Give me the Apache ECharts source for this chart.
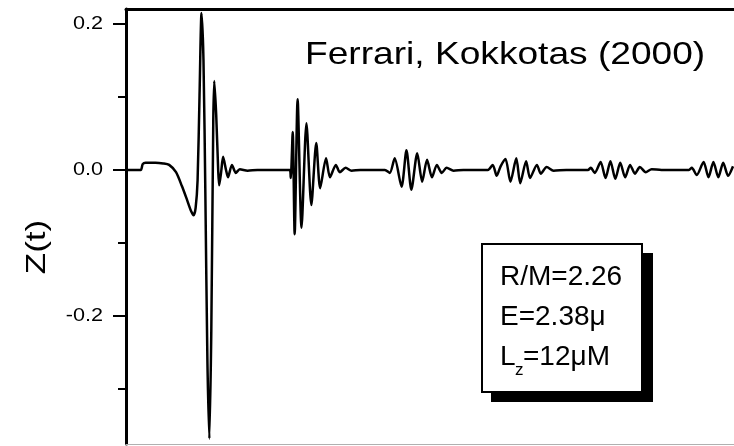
<!DOCTYPE html>
<html>
<head>
<meta charset="utf-8">
<title>Z(t) waveform</title>
<script src="https://cdn.jsdelivr.net/npm/echarts@6/dist/echarts.min.js"></script>
<style>
  html, body { margin: 0; padding: 0; background: #fff; }
  #chart { width: 734px; height: 446px; }
</style>
</head>
<body>
<div id="chart"></div>
<script>
// Time samples (arbitrary units) and the waveform amplitude Z(t)
const timeValues = [
  0, 15, 17, 20, 30, 38, 44, 51, 57, 62, 66, 69, 71, 73, 75, 77, 79, 81, 83, 85,
  87, 89, 90, 92, 94, 95, 97, 99, 102, 104, 108, 112, 116, 124, 134, 167,
  168, 170, 172, 175, 179, 184, 189, 194, 198, 204, 208, 214, 218, 224, 230, 239, 264,
  269, 274, 281, 286, 291, 297, 302, 307, 312, 317, 322, 327, 334, 344, 369,
  374, 378, 382, 387, 392, 398, 402, 408, 412, 419, 423, 429, 436, 449, 471,
  474, 478, 484, 489, 494, 499, 504, 509, 514, 519, 524, 530, 536, 546, 574,
  577, 582, 589, 594, 599, 604, 609, 614, 619
];
const zValues = [
  0, 0, 0.008, 0.010, 0.010, 0.009, 0.007, -0.003, -0.022, -0.040, -0.055, -0.062, -0.052, -0.014, 0.103, 0.215, 0.151, -0.041, -0.260, -0.368,
  -0.219, 0.068, 0.122, 0.075, 0, -0.021, -0.003, 0.018, 0, -0.010, 0.007, -0.004, 0.001, -0.001, 0, 0,
  -0.011, 0.052, -0.088, 0.097, -0.079, 0.064, -0.048, 0.037, -0.025, 0.016, -0.010, 0.007, -0.003, 0.003, -0.001, 0, 0,
  -0.004, 0.016, -0.023, 0.027, -0.027, 0.023, -0.016, 0.014, -0.010, 0.007, -0.004, 0.003, -0.001, 0, 0,
  0.007, -0.008, 0.005, 0.015, -0.016, 0.016, -0.018, 0.012, -0.011, 0.007, -0.005, 0.004, -0.001, 0, 0,
  0.003, -0.004, 0.011, -0.011, 0.012, -0.012, 0.010, -0.010, 0.007, -0.005, 0.004, -0.003, 0.001, 0, 0,
  0.003, -0.007, 0.011, -0.010, 0.011, -0.010, 0.010, -0.008, 0.005
];

// Axis ticks
const majorTickValues = [0.2, 0.0, -0.2];
const majorTickLabels = ['0.2', '0.0', '-0.2'];
const minorTickValues = [0.1, -0.1, -0.3];

const yMin = -0.3753;
const yMax = 0.2205;
const tMax = 620;

const titleText = 'Ferrari, Kokkotas (2000)';
const yAxisTitle = 'Z(t)';
const paramLines = ['R/M=2.26', 'E=2.38\u03bc'];
const lzMain = 'L';
const lzSub = 'z';
const lzRest = '=12\u03bcM';

const seriesData = timeValues.map((t, i) => [t, zValues[i]]);

const FAMILY = 'Liberation Sans';

const chart = echarts.init(document.getElementById('chart'), null, { renderer: 'canvas' });

chart.setOption({
  animation: false,
  backgroundColor: '#ffffff',
  grid: { left: 126, top: 9, width: 620, bottom: 2, containLabel: false },
  xAxis: [
    {
      type: 'value', min: 0, max: tMax, position: 'bottom',
      axisLine: { show: true, onZero: false, lineStyle: { color: '#b0b0b0', width: 1 } },
      axisTick: { show: false }, axisLabel: { show: false }, splitLine: { show: false }
    },
    {
      type: 'value', min: 0, max: tMax, position: 'top',
      axisLine: { show: true, onZero: false, lineStyle: { color: '#000', width: 3 } },
      axisTick: { show: false }, axisLabel: { show: false }, splitLine: { show: false }
    }
  ],
  yAxis: [
    {
      type: 'value', min: yMin, max: yMax, position: 'left',
      axisLine: { show: true, onZero: false, lineStyle: { color: '#000', width: 3 } },
      axisTick: {
        show: true, inside: false, length: 13, customValues: majorTickValues,
        lineStyle: { color: '#000', width: 2 }
      },
      axisLabel: { show: false },
      splitLine: { show: false }
    },
    {
      type: 'value', min: yMin, max: yMax, position: 'left',
      axisLine: { show: false },
      axisTick: {
        show: true, inside: false, length: 8, customValues: minorTickValues,
        lineStyle: { color: '#000', width: 2 }
      },
      axisLabel: { show: false },
      splitLine: { show: false }
    }
  ],
  series: [
    {
      type: 'line',
      xAxisIndex: 0,
      yAxisIndex: 0,
      data: seriesData,
      showSymbol: false,
      smooth: 0.25,
      clip: true,
      lineStyle: { color: '#000', width: 2.5 }
    }
  ]
});

// Tick labels placed at the positions the y axis scale gives for each value
const axisX = chart.convertToPixel({ xAxisIndex: 0 }, 0);
const tickLabelGraphics = majorTickValues.map((v, i) => ({
  type: 'text',
  id: 'ylabel' + i,
  x: axisX - 23,
  y: chart.convertToPixel({ yAxisIndex: 0 }, v),
  scaleX: 1.2,
  z: 10,
  style: { text: majorTickLabels[i], fontFamily: FAMILY, fontSize: 18, fill: '#000', align: 'right', verticalAlign: 'middle' }
}));

chart.setOption({
  graphic: tickLabelGraphics.concat([
    {
      type: 'text', id: 'title', x: 305, y: 55, scaleX: 1.16, z: 10,
      style: { text: titleText, fontFamily: FAMILY, fontSize: 32, fill: '#000', align: 'left', verticalAlign: 'middle' }
    },
    {
      type: 'text', id: 'yname', x: 37, y: 247, rotation: Math.PI / 2, scaleX: 1.25, z: 10,
      style: { text: yAxisTitle, fontFamily: FAMILY, fontSize: 28, fill: '#000', align: 'center', verticalAlign: 'middle' }
    },
    // parameter box: offset shadow, then framed panel
    {
      type: 'rect', id: 'boxShadow', z: 10,
      shape: { x: 491, y: 253, width: 162, height: 149 },
      style: { fill: '#000', stroke: null }
    },
    {
      type: 'rect', id: 'boxPanel', z: 11,
      shape: { x: 482, y: 244, width: 160, height: 148 },
      style: { fill: '#fff', stroke: '#000', lineWidth: 2 }
    },
    {
      type: 'text', id: 'p1', x: 500, y: 277, z: 12,
      style: { text: paramLines[0], fontFamily: FAMILY, fontSize: 28, fill: '#000', align: 'left', verticalAlign: 'middle' }
    },
    {
      type: 'text', id: 'p2', x: 500, y: 317, z: 12,
      style: { text: paramLines[1], fontFamily: FAMILY, fontSize: 28, fill: '#000', align: 'left', verticalAlign: 'middle' }
    },
    {
      type: 'text', id: 'p3a', x: 500, y: 357, z: 12,
      style: { text: lzMain, fontFamily: FAMILY, fontSize: 28, fill: '#000', align: 'left', verticalAlign: 'middle' }
    },
    {
      type: 'text', id: 'p3b', x: 515, y: 370, z: 12,
      style: { text: lzSub, fontFamily: FAMILY, fontSize: 17, fill: '#000', align: 'left', verticalAlign: 'middle' }
    },
    {
      type: 'text', id: 'p3c', x: 523, y: 357, z: 12,
      style: { text: lzRest, fontFamily: FAMILY, fontSize: 28, fill: '#000', align: 'left', verticalAlign: 'middle' }
    }
  ])
});
</script>
</body>
</html>
